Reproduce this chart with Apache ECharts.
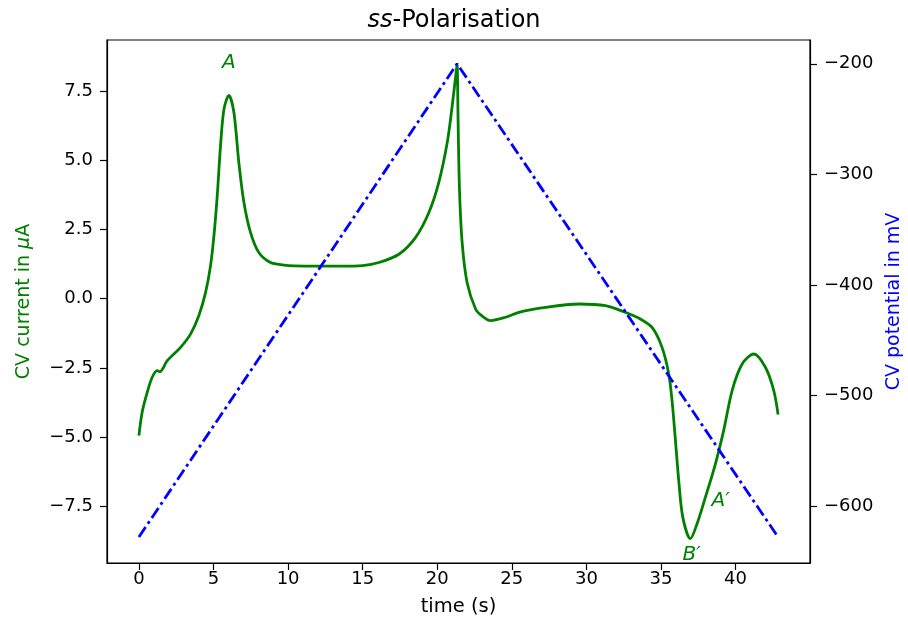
<!DOCTYPE html>
<html>
<head>
<meta charset="utf-8">
<script src="https://cdn.jsdelivr.net/npm/echarts@6/dist/echarts.min.js"></script>
<style>
html,body{margin:0;padding:0;background:#fff;}
#main{width:908px;height:627px;}
</style>
</head>
<body>
<div id="main"></div>
<script>
// CV 数据
var currentTime = [0, 0.22, 0.56, 0.89, 1.23, 1.41, 1.9, 2.79, 3.46, 4.02, 4.47, 4.8, 5.03, 5.25, 5.47, 5.7, 6.03, 6.37, 6.7, 7.04,
    7.48, 8.04, 8.82, 9.72, 10.4, 12, 13.5, 15, 16.09, 17.43, 18.55, 19.44, 20.1, 20.67, 21.0, 21.29, 21.33, 21.4, 21.49, 21.67,
    22.0, 22.57, 23.0, 23.57, 24.58, 25.47, 27.26, 29.5, 31.28, 32.6, 33.5, 34.4, 35.07, 35.52, 35.74, 35.97, 36.19, 36.46, 36.97,
    37.42, 37.98, 38.65, 39.2, 39.77, 40.44, 41.22, 42.0, 42.56, 42.85];
var currentValues = [-4.95, -4.1, -3.38, -2.84, -2.6, -2.64, -2.24, -1.76, -1.28, -0.61, 0.23, 1.19, 2.28, 3.72, 5.53, 6.85, 7.36, 6.73, 4.92, 3.48,
    2.4, 1.67, 1.31, 1.22, 1.19, 1.18, 1.18, 1.2, 1.31, 1.61, 2.22, 3.12, 4.2, 5.65, 6.97, 8.3, 8.48, 6.37, 3.96, 2.03,
    0.59, -0.37, -0.62, -0.79, -0.67, -0.49, -0.31, -0.19, -0.25, -0.49, -0.7, -1.04, -1.76, -2.72, -3.68, -5.13, -6.58, -7.9, -8.68,
    -8.14, -7.18, -5.97, -4.77, -3.32, -2.36, -2.0, -2.48, -3.32, -4.19];
var potentialTime = [0, 21.33, 42.85];
var potentialValues = [-628, -200, -628];
var xTicks = [0, 5, 10, 15, 20, 25, 30, 35, 40];
var currentTicks = [-7.5, -5, -2.5, 0, 2.5, 5, 7.5];
var potentialTicks = [-600, -500, -400, -300, -200];
var peakLabels = ['A', 'A\u2032', 'B\u2032'];
var peakTime = [6.03, 39.0, 37.06];
var peakCurrent = [8.53, -7.3, -9.28];

var myChart = echarts.init(document.getElementById('main'));
var font = 'DejaVu Sans';
function minus(s){ return String(s).replace('-', '\u2212'); }

function zip(a, b){
    var out = [];
    for (var i = 0; i < a.length; i++) out.push([a[i], b[i]]);
    return out;
}

var peakPoints = [];
for (var i = 0; i < peakLabels.length; i++) {
    peakPoints.push({coord: [peakTime[i], peakCurrent[i]], value: peakLabels[i]});
}

var option = {
    backgroundColor: '#fff',
    animation: false,
    title: {
        text: '{i|ss}{n|-Polarisation}',
        left: 'center',
        top: 4,
        textStyle: {
            fontWeight: 'normal',
            rich: {
                i: {fontFamily: font, fontSize: 24, fontStyle: 'italic', fontWeight: 'normal', color: '#000'},
                n: {fontFamily: font, fontSize: 24, fontWeight: 'normal', color: '#000'}
            }
        }
    },
    grid: {
        left: 107, right: 98, top: 40, bottom: 64,
        outerBoundsMode: 'none',
        show: true, borderColor: '#000', borderWidth: 1.2
    },
    xAxis: {
        type: 'value',
        min: -2.14, max: 44.99,
        name: 'time (s)',
        nameLocation: 'middle',
        nameGap: 34,
        nameTextStyle: {fontFamily: font, fontSize: 19.5, color: '#000'},
        splitLine: {show: false},
        axisLine: {show: true, onZero: false, lineStyle: {color: '#000', width: 1.2}},
        axisTick: {show: true, customValues: xTicks, length: 7, lineStyle: {color: '#000', width: 1.2}},
        axisLabel: {customValues: xTicks, fontFamily: font, fontSize: 18, color: '#000', margin: 7}
    },
    yAxis: [{
        type: 'value',
        position: 'left',
        min: -9.56, max: 9.36,
        name: '{n|CV current in }{i|\u03bc}{n|A}',
        nameLocation: 'middle',
        nameRotate: 90,
        nameGap: 73,
        nameTextStyle: {
            rich: {
                n: {fontFamily: font, fontSize: 19, color: 'green'},
                i: {fontFamily: font, fontSize: 19, color: 'green', fontStyle: 'italic'}
            }
        },
        splitLine: {show: false},
        axisLine: {show: true, onZero: false, lineStyle: {color: '#000', width: 1.2}},
        axisTick: {show: true, customValues: currentTicks, length: 7, lineStyle: {color: '#000', width: 1.2}},
        axisLabel: {
            customValues: currentTicks, fontFamily: font, fontSize: 18, color: '#000', margin: 14,
            formatter: function (v) { return minus(v.toFixed(1)); }
        }
    }, {
        type: 'value',
        position: 'right',
        min: -651.5, max: -178.5,
        name: 'CV potential in mV',
        nameLocation: 'middle',
        nameRotate: 90,
        nameGap: 73,
        nameTextStyle: {fontFamily: font, fontSize: 19, color: 'blue'},
        splitLine: {show: false},
        axisLine: {show: true, onZero: false, lineStyle: {color: '#000', width: 1.2}},
        axisTick: {show: true, customValues: potentialTicks, length: 7, lineStyle: {color: '#000', width: 1.2}},
        axisLabel: {
            customValues: potentialTicks, fontFamily: font, fontSize: 18, color: '#000', margin: 14,
            formatter: function (v) { return minus(v); }
        }
    }],
    series: [{
        name: 'current',
        type: 'line',
        yAxisIndex: 0,
        data: zip(currentTime, currentValues),
        showSymbol: false,
        smooth: 0.3,
        lineStyle: {color: 'green', width: 2.8},
        z: 2,
        markPoint: {
            symbol: 'circle',
            symbolSize: 0,
            silent: true,
            label: {
                show: true, position: 'inside',
                formatter: function (p) { return p.value; },
                fontFamily: font, fontSize: 20, fontStyle: 'italic', color: 'green'
            },
            data: peakPoints
        }
    }, {
        name: 'potential',
        type: 'line',
        yAxisIndex: 1,
        data: zip(potentialTime, potentialValues),
        showSymbol: false,
        lineStyle: {color: 'blue', width: 2.8, type: [12, 4, 3, 4]},
        z: 3
    }]
};
myChart.setOption(option);
</script>
</body>
</html>
